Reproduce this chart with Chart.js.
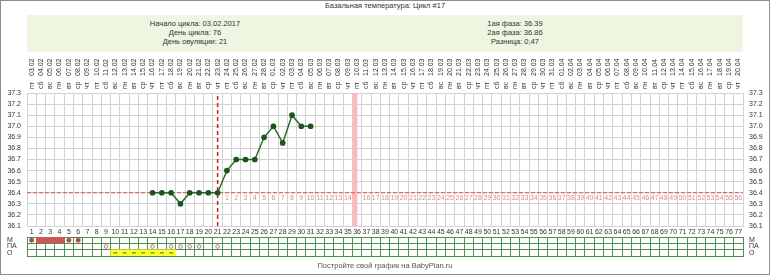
<!DOCTYPE html>
<html lang="ru">
<head>
<meta charset="UTF-8">
<script src="https://cdn.jsdelivr.net/npm/chart.js"></script>
<title>Базальная температура: Цикл #17</title>
<style>
  body { margin: 0; background: #fff; font-family: "Liberation Sans", Arial, sans-serif; color: #333; }
  #frame { position: absolute; left: 0; top: 0; width: 770px; height: 275px; box-sizing: border-box; border: 1px solid #8c8c8c; }
  #title { position: absolute; top: 1px; left: 0; width: 770px; text-align: center; font-size: 7.5px; line-height: 10px; }
  #info { position: absolute; left: 27px; top: 15px; width: 716px; height: 37px; background: #eef6e1; }
  .col { position: absolute; top: 4px; width: 200px; text-align: center; font-size: 7.5px; line-height: 9px; }
  #footer { position: absolute; top: 261px; left: 0; width: 770px; text-align: center; font-size: 7.5px; line-height: 10px; color: #555; }
  canvas { position: absolute; left: 0; }
</style>
</head>
<body>
<div id="frame"></div>
<div id="title">Базальная температура: Цикл #17</div>
<div id="info">
  <div class="col" style="left:68px">Начало цикла: 03.02.2017<br>День цикла: 76<br>День овуляции: 21</div>
  <div class="col" style="left:388px">1ая фаза: 36.39<br>2ая фаза: 36.86<br>Разница: 0,47</div>
</div>
<canvas id="temp" width="770" height="184" style="top:53px"></canvas>
<canvas id="marks" width="770" height="41" style="top:226px"></canvas>
<div id="footer">Постройте свой график на BabyPlan.ru</div>

<script>
// день цикла
const days = ['1','2','3','4','5','6','7','8','9','10','11','12','13','14','15','16','17','18','19','20',
  '21','22','23','24','25','26','27','28','29','30','31','32','33','34','35','36','37','38','39','40',
  '41','42','43','44','45','46','47','48','49','50','51','52','53','54','55','56','57','58','59','60',
  '61','62','63','64','65','66','67','68','69','70','71','72','73','74','75','76','77'];

const weekdays = ['пт','сб','вс','пн','вт','ср','чт','пт','сб','вс','пн','вт','ср','чт',
  'пт','сб','вс','пн','вт','ср','чт','пт','сб','вс','пн','вт','ср','чт',
  'пт','сб','вс','пн','вт','ср','чт','пт','сб','вс','пн','вт','ср','чт',
  'пт','сб','вс','пн','вт','ср','чт','пт','сб','вс','пн','вт','ср','чт',
  'пт','сб','вс','пн','вт','ср','чт','пт','сб','вс','пн','вт','ср','чт',
  'пт','сб','вс','пн','вт','ср','чт'];

const dates = ['03.02','04.02','05.02','06.02','07.02','08.02','09.02','10.02','11.02','12.02',
  '13.02','14.02','15.02','16.02','17.02','18.02','19.02','20.02','21.02','22.02','23.02','24.02',
  '25.02','26.02','27.02','28.02','01.03','02.03','03.03','04.03','05.03','06.03','07.03','08.03',
  '09.03','10.03','11.03','12.03','13.03','14.03','15.03','16.03','17.03','18.03','19.03','20.03',
  '21.03','22.03','23.03','24.03','25.03','26.03','27.03','28.03','29.03','30.03','31.03','01.04',
  '02.04','03.04','04.04','05.04','06.04','07.04','08.04','09.04','10.04','11.04','12.04','13.04',
  '14.04','15.04','16.04','17.04','18.04','19.04','20.04'];

// дни после овуляции (под линией перекрытия)
const afterOvulation = ['','','','','','','','','','','','','','','','','','','','','',
  '1','2','3','4','5','6','7','8','9','10','11','12','13','14','15','16','17','18','19','20',
  '21','22','23','24','25','26','27','28','29','30','31','32','33','34','35','36','37','38','39','40',
  '41','42','43','44','45','46','47','48','49','50','51','52','53','54','55','56'];

// температура
const tempDays = [14, 15, 16, 17, 18, 19, 20, 21, 22, 23, 24, 25, 26, 27, 28, 29, 30, 31];
const temps = [36.4, 36.4, 36.4, 36.3, 36.4, 36.4, 36.4, 36.4, 36.6, 36.7, 36.7, 36.7, 36.9, 37.0, 36.85, 37.1, 37.0, 37.0];
const tempMin = 36.1;
const tempMax = 37.3;
const coverTemp = 36.4;
const ovulationDay = 21;
const markedDay = 36;

// таблица отметок
const rowLabels = ['М', 'ПА', 'О'];
const mStarDays = [1, 5, 6];
const mFillDays = [2, 3, 4];
const paDays = [9, 14, 16, 17, 18, 19, 21];
const oDays = [10, 11, 12, 13, 14, 15, 16];

Chart.defaults.font.family = '"Liberation Sans", Arial, sans-serif';
Chart.defaults.font.size = 7;
Chart.defaults.color = '#333';

const tempSeries = days.map(d => {
  const i = tempDays.indexOf(+d);
  return i < 0 ? null : temps[i];
});
const markBar = days.map(d => +d === markedDay ? [tempMin, tempMax] : null);

const gridGray = '#d2d2d2';
const rotLabelShift = 8.4; // rotated top labels are drawn one line-height to the left

new Chart(document.getElementById('temp'), {
  data: {
    labels: days,
    datasets: [
      {
        type: 'line', data: tempSeries, order: 0,
        borderColor: '#2b6b2b', borderWidth: 1.5,
        pointRadius: 2.1, pointBackgroundColor: '#1d541d', pointBorderColor: '#1d541d'
      },
      {
        type: 'line', xAxisID: 'xl', order: 1,
        data: [{x: ovulationDay, y: tempMin}, {x: ovulationDay, y: tempMax}],
        borderColor: '#d01c1c', borderWidth: 1.5, borderDash: [4, 3], pointRadius: 0
      },
      {
        type: 'line', xAxisID: 'xl', order: 2,
        data: [{x: 0.5, y: coverTemp}, {x: days.length + 0.5, y: coverTemp}],
        borderColor: '#d9534f', borderWidth: 1.2, borderDash: [4, 2], pointRadius: 0
      },
      {
        type: 'bar', data: markBar, order: 3,
        backgroundColor: '#f8bcbc', barPercentage: 1, categoryPercentage: 1
      }
    ]
  },
  options: {
    responsive: false,
    animation: false,
    devicePixelRatio: 1,
    layout: { padding: { top: 2, left: 0, right: 0, bottom: 0 } },
    plugins: { legend: { display: false }, tooltip: { enabled: false } },
    scales: {
      x: {
        type: 'category', axis: 'x', position: 'bottom', offset: true,
        grid: { offset: true, color: gridGray, drawTicks: false },
        border: { color: gridGray },
        ticks: { autoSkip: false, maxRotation: 0, padding: 2 },
        afterFit: s => { s.height = 11; }
      },
      xl: { type: 'linear', axis: 'x', display: false, min: 0.5, max: days.length + 0.5 },
      xw: {
        type: 'category', axis: 'x', position: 'top', labels: weekdays, offset: true, weight: 1,
        grid: { display: false, drawTicks: false }, border: { display: false },
        ticks: { autoSkip: false, minRotation: 90, maxRotation: 90, padding: 4, labelOffset: rotLabelShift },
        afterFit: s => { s.height = 16; }
      },
      xd: {
        type: 'category', axis: 'x', position: 'top', labels: dates, offset: true, weight: 2,
        grid: { display: false, drawTicks: false }, border: { display: false },
        ticks: { autoSkip: false, minRotation: 90, maxRotation: 90, padding: 1, labelOffset: rotLabelShift },
        afterFit: s => { s.height = 22; }
      },
      xn: {
        type: 'category', axis: 'x', position: { y: coverTemp }, labels: afterOvulation, offset: true,
        grid: { display: false, drawTicks: false }, border: { display: false },
        ticks: {
          autoSkip: false, maxRotation: 0, padding: 1,
          color: c => c.index === markedDay - 1 ? '#ffffff' : '#e28b8b'
        }
      },
      y: {
        type: 'linear', axis: 'y', position: 'left', min: tempMin, max: tempMax,
        grid: { color: gridGray, drawTicks: false },
        border: { color: gridGray },
        ticks: { stepSize: 0.1, autoSkip: false, padding: 6, callback: v => v.toFixed(1) },
        afterFit: s => { s.width = 27; }
      },
      y2: {
        type: 'linear', axis: 'y', position: 'right', min: tempMin, max: tempMax,
        grid: { display: false, drawTicks: false },
        border: { display: false },
        ticks: { stepSize: 0.1, autoSkip: false, padding: 6, callback: v => v.toFixed(1) },
        afterFit: s => { s.width = 27; }
      }
    }
  }
});

const green = '#4f8f4f';

new Chart(document.getElementById('marks'), {
  data: {
    labels: days,
    datasets: [
      {
        type: 'line', yAxisID: 'yv', showLine: false,
        data: mStarDays.map(d => ({x: String(d), y: 0.5})),
        pointStyle: 'star', pointRadius: 2.6, pointBorderColor: '#a34a44', pointBorderWidth: 1.2
      },
      {
        type: 'line', yAxisID: 'yv', showLine: false,
        data: paDays.map(d => ({x: String(d), y: 1.5})),
        pointStyle: 'circle', pointRadius: 1.8, pointBorderColor: '#bb7070',
        pointBackgroundColor: '#ffffff', pointBorderWidth: 1
      },
      {
        type: 'line', yAxisID: 'yv', showLine: false,
        data: oDays.map(d => ({x: String(d), y: 2.5})),
        pointStyle: 'line', pointRadius: 2, pointBorderColor: '#3f9a3f', pointBorderWidth: 1.3
      },
      {
        type: 'bar', yAxisID: 'yv', grouped: false,
        data: days.map(d => mFillDays.includes(+d) ? [0.05, 0.95] : null),
        backgroundColor: '#cd5757', barPercentage: 1, categoryPercentage: 1
      },
      {
        type: 'bar', yAxisID: 'yv', grouped: false,
        data: days.map(d => oDays.includes(+d) ? [2.02, 2.98] : null),
        backgroundColor: '#ffff2e', barPercentage: 1, categoryPercentage: 1
      }
    ]
  },
  options: {
    responsive: false,
    animation: false,
    devicePixelRatio: 1,
    layout: { autoPadding: false, padding: { top: 11, left: 7, right: 0, bottom: 11 } },
    plugins: { legend: { display: false }, tooltip: { enabled: false } },
    scales: {
      x: {
        type: 'category', axis: 'x', offset: true,
        grid: { offset: true, color: green, drawTicks: false },
        border: { color: green },
        ticks: { display: false },
        afterFit: s => { s.height = 0; }
      },
      yv: { type: 'linear', axis: 'y', display: false, min: 0, max: 3, reverse: true },
      yl: {
        type: 'category', axis: 'y', position: 'left', labels: rowLabels, offset: true,
        grid: { offset: true, color: green, drawTicks: false },
        border: { color: green },
        ticks: { autoSkip: false, crossAlign: 'far', padding: 0 },
        afterFit: s => { s.width = 20; }
      },
      yr: {
        type: 'category', axis: 'y', position: 'right', labels: rowLabels, offset: true,
        grid: { display: false, drawTicks: false }, border: { display: false },
        ticks: { autoSkip: false, padding: 6 },
        afterFit: s => { s.width = 27; }
      }
    }
  }
});
</script>
</body>
</html>
